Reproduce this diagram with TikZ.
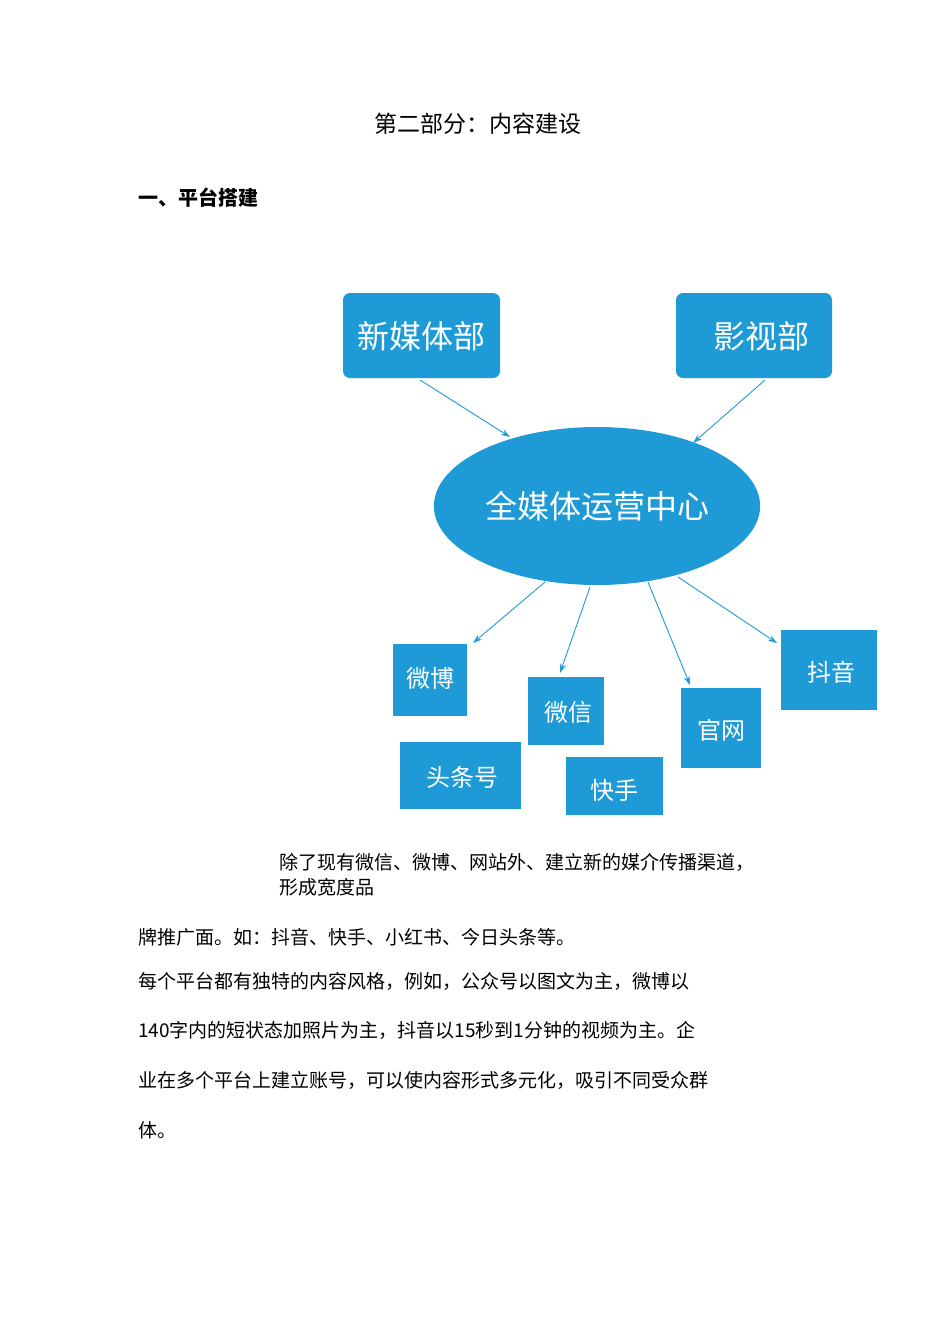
\documentclass[tikz,border=0pt]{standalone}
\usepackage{fontspec}
\newfontfamily\cjk{Noto Sans CJK SC}
\setmainfont{Noto Sans CJK SC}
\usetikzlibrary{shapes.geometric,arrows.meta}
\definecolor{bl}{HTML}{1E9AD6}
\begin{document}
\begin{tikzpicture}[x=1pt,y=-1pt,
 rbox/.style={fill=bl,text=white,rounded corners=7pt,font=\fontsize{32}{32}\selectfont},
 sbox/.style={fill=bl,text=white,font=\fontsize{24}{24}\selectfont},
 arr/.style={bl,line width=0.9pt,-{Stealth[length=9pt,width=6pt]}},
 txt/.style={anchor=west,inner sep=0,font=\fontsize{19}{19}\selectfont}]
\useasboundingbox[fill=white] (0,0) rectangle (950,1344);
\node[font=\fontsize{23}{23}\selectfont] (title) at (478,124) {第二部分：内容建设};
\node[txt,font=\bfseries\fontsize{20}{20}\selectfont] (h1) at (138,198) {一、平台搭建};
\path[rbox] (343,293) rectangle (500,378); \node[text=white,font=\fontsize{32}{32}\selectfont] (xm) at (421.5,336) {新媒体部};
\path[rbox] (676,293) rectangle (832,378); \node[text=white,font=\fontsize{32}{32}\selectfont] (ys) at (761,336) {影视部};
\node[ellipse,fill=bl,minimum width=294pt,minimum height=158pt,text=white,font=\fontsize{32}{32}\selectfont] (c) at (597,506) {全媒体运营中心};
\path[sbox] (393,644) rectangle (467,716); \node[text=white,font=\fontsize{24}{24}\selectfont] (wb) at (430,678) {微博};
\path[sbox] (528,677) rectangle (604,745); \node[text=white,font=\fontsize{24}{24}\selectfont] (wx) at (568,712) {微信};
\path[sbox] (681,688) rectangle (761,768); \node[text=white,font=\fontsize{24}{24}\selectfont] (gw) at (721,730) {官网};
\path[sbox] (781,630) rectangle (877,710); \node[text=white,font=\fontsize{24}{24}\selectfont] (dy) at (831,672) {抖音};
\path[sbox] (400,742) rectangle (521,809); \node[text=white,font=\fontsize{24}{24}\selectfont] (tt) at (462,777) {头条号};
\path[sbox] (566,757) rectangle (663,815); \node[text=white,font=\fontsize{24}{24}\selectfont] (ks) at (614,790) {快手};
\coordinate (a1) at (420,380); \coordinate (b1) at (510,437);
\coordinate (a2) at (765,380); \coordinate (b2) at (693,443);
\coordinate (a3) at (545,582); \coordinate (b3) at (473,643);
\coordinate (a4) at (590,587); \coordinate (b4) at (560,673);
\coordinate (a5) at (648,582); \coordinate (b5) at (690,685);
\coordinate (a6) at (678,577); \coordinate (b6) at (777,643);
\foreach \i in {1,...,6} \draw[arr] (a\i) -- (b\i);
\node[txt] (p1) at (279,862) {除了现有微信、微博、网站外、建立新的媒介传播渠道，};
\node[txt] (p2) at (279,887) {形成宽度品};
\node[txt] (p3) at (138,937) {牌推广面。如：抖音、快手、小红书、今日头条等。};
\node[txt] (p4) at (138,981) {每个平台都有独特的内容风格，例如，公众号以图文为主，微博以};
\node[txt] (p5) at (138,1030) {140字内的短状态加照片为主，抖音以15秒到1分钟的视频为主。企};
\node[txt] (p6) at (138,1080) {业在多个平台上建立账号，可以使内容形式多元化，吸引不同受众群};
\node[txt] (p7) at (138,1130) {体。};
\end{tikzpicture}
\end{document}
